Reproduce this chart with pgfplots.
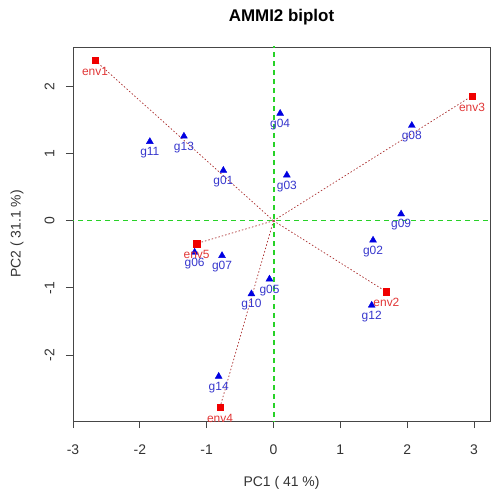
\documentclass[border=0pt]{standalone}
\usepackage{fontspec}
\setmainfont{Liberation Sans}
\usepackage{pgfplots}
\usepackage{pgfplotstable}
\pgfplotsset{compat=1.18}

\definecolor{envred}{RGB}{240,0,0}
\definecolor{envlab}{RGB}{225,55,55}
\definecolor{gblue}{RGB}{0,0,225}
\definecolor{glab}{RGB}{55,55,205}
\definecolor{refgreen}{RGB}{40,210,40}
\definecolor{vecred}{RGB}{170,45,45}
\definecolor{boxgray}{RGB}{70,70,70}

% genotype scores
\pgfplotstableread{
x y lab
-1.85 1.18 g11
-1.34 1.26 g13
-0.75 0.75 g01
0.10 1.60 g04
0.20 0.68 g03
2.07 1.42 g08
1.91 0.10 g09
1.49 -0.29 g02
1.47 -1.26 g12
-0.06 -0.87 g05
-0.33 -1.09 g10
-1.18 -0.47 g06
-0.77 -0.52 g07
-0.82 -2.32 g14
}\genos

% environment scores
\pgfplotstableread{
x y lab
-2.67 2.39 env1
1.69 -1.06 env2
2.97 1.86 env3
-0.80 -2.78 env4
-1.15 -0.34 env5
}\envs

\begin{document}
\begin{tikzpicture}
\useasboundingbox (-73bp,-69bp) rectangle (419bp,421bp);
\begin{axis}[
    at={(0,0)}, anchor=south west,
    scale only axis,
    width=417bp, height=374bp,
    xmin=-3.0, xmax=3.24,
    ymin=-2.985, ymax=2.59,
    axis line style={boxgray, line width=0.8bp},
    xtick={-3,-2,-1,0,1,2,3},
    ytick={-2,-1,0,1,2},
    xtick pos=bottom, ytick pos=left,
    tick align=outside,
    major tick length=7bp,
    tick style={boxgray, line width=0.8bp},
    ticklabel style={font=\fontsize{14}{16}\selectfont, text=black!80},
    /pgf/number format/assume math mode=true,
    xticklabel style={yshift=-13bp},
    yticklabel={\rotatebox{90}{\pgfmathprintnumber{\tick}}},
    yticklabel style={anchor=east, xshift=-8bp},
    xlabel={PC1 ( 41 \%)},
    ylabel={PC2 ( 31.1 \%)},
    label style={font=\fontsize{14}{16}\selectfont, text=black!80},
    xlabel style={at={(axis description cs:0.5,-0.166)}, anchor=center},
    ylabel style={at={(axis description cs:-0.134,0.5)}, anchor=center},
    title={AMMI2 biplot},
    title style={font=\bfseries\fontsize{17}{20}\selectfont, yshift=12bp},
]
% reference lines
\addplot[draw=refgreen, line width=1.6bp, dash pattern=on 5bp off 4bp] coordinates {(0.006,-4) (0.006,4)};
\addplot[draw=refgreen, line width=1.2bp, dash pattern=on 5bp off 4bp] coordinates {(-4,0) (4,0)};

% genotypes
\addplot[only marks, mark=triangle*, mark size=4bp, color=gblue,
    point meta=explicit symbolic, nodes near coords,
    every node near coord/.style={anchor=center, yshift=-11bp,
        font=\fontsize{12}{14}\selectfont, text=glab}]
    table[x=x, y=y, meta=lab] {\genos};

% environment vectors
\addplot[vecred, line width=0.7bp, dash pattern=on 1.5bp off 2bp] coordinates {(0,0) (-2.67,2.39)};
\addplot[vecred, line width=0.7bp, dash pattern=on 1.5bp off 2bp] coordinates {(0,0) (1.69,-1.06)};
\addplot[vecred, line width=0.7bp, dash pattern=on 1.5bp off 2bp] coordinates {(0,0) (2.97,1.86)};
\addplot[vecred, line width=0.7bp, dash pattern=on 1.5bp off 2bp] coordinates {(0,0) (-0.80,-2.78)};
\addplot[vecred, line width=0.7bp, dash pattern=on 1.5bp off 2bp] coordinates {(0,0) (-1.15,-0.34)};

% environments
\addplot[only marks, mark=square*, mark size=3.2bp, color=envred,
    point meta=explicit symbolic, nodes near coords,
    every node near coord/.style={anchor=center, yshift=-11bp,
        font=\fontsize{12}{14}\selectfont, text=envlab}]
    table[x=x, y=y, meta=lab] {\envs};
\end{axis}
\end{tikzpicture}
\end{document}
